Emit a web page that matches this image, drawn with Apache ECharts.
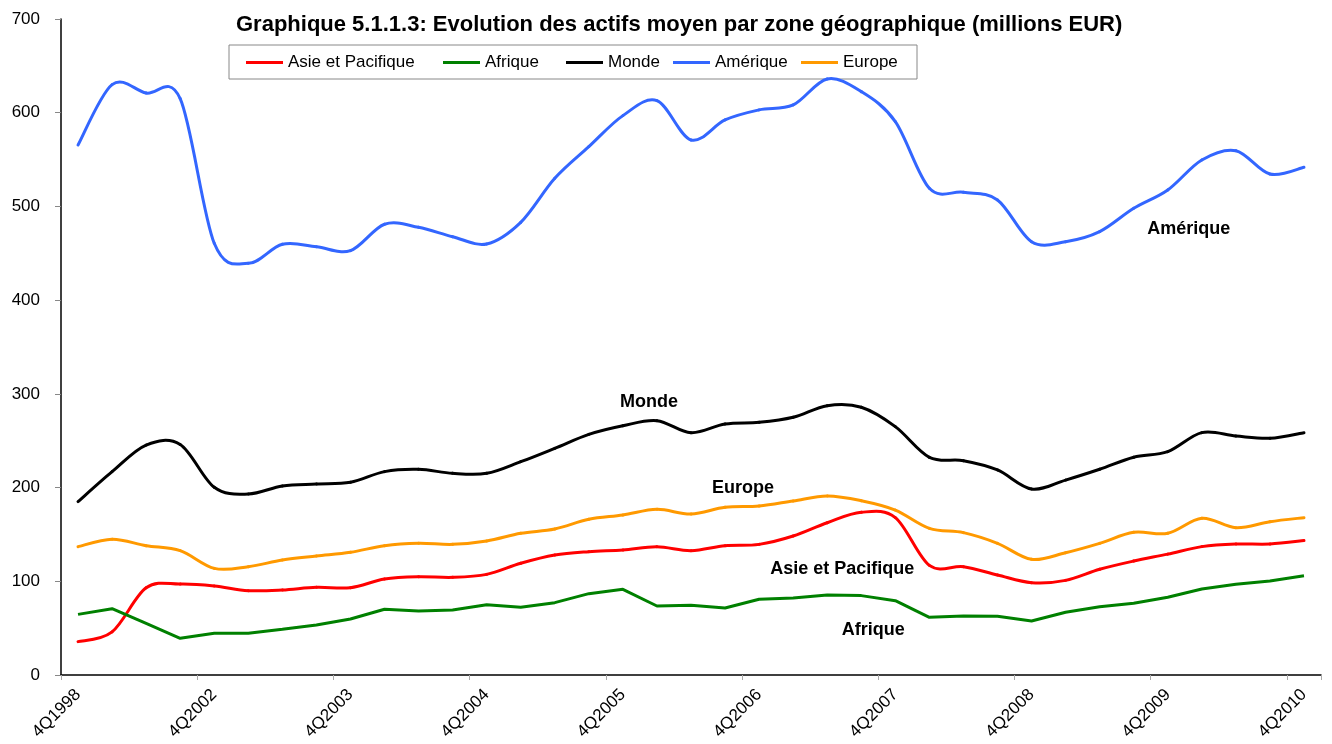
<!DOCTYPE html>
<html>
<head>
<meta charset="utf-8">
<script src="https://cdn.jsdelivr.net/npm/echarts@6/dist/echarts.min.js"></script>
<style>
html,body{margin:0;padding:0;background:#fff;}
#chart{width:1332px;height:744px;}
</style>
</head>
<body>
<div id="chart"></div>
<script>
const categories = ['4Q1998','4Q1999','4Q2000','4Q2001','4Q2002',
  '1Q2003','2Q2003','3Q2003','4Q2003',
  '1Q2004','2Q2004','3Q2004','4Q2004',
  '1Q2005','2Q2005','3Q2005','4Q2005',
  '1Q2006','2Q2006','3Q2006','4Q2006',
  '1Q2007','2Q2007','3Q2007','4Q2007',
  '1Q2008','2Q2008','3Q2008','4Q2008',
  '1Q2009','2Q2009','3Q2009','4Q2009',
  '1Q2010','2Q2010','3Q2010','4Q2010'];

const asiePacifique = [35.6, 46, 93, 97, 95, 90, 90.7, 93.6, 93.2, 102.4, 104.9, 104.2, 107.4, 119.2, 128, 131.6, 133.4, 136.9, 132.7, 138, 139.4, 148.3, 162.5, 173.6, 168, 117, 115.6, 106.7, 98.5, 101, 112.8, 121.6, 129, 137, 139.8, 139.8, 143.4];
const afrique = [64.7, 70.8, 55, 39.1, 44.5, 44.5, 48.7, 53.4, 59.8, 70.1, 68.3, 69.4, 75, 72.2, 77.2, 86.8, 91.4, 73.6, 74.3, 71.5, 80.8, 82.2, 85.4, 84.7, 79.3, 61.5, 63, 62.6, 57.6, 66.9, 72.9, 76.5, 82.9, 91.8, 96.8, 100.3, 106];
const monde = [185, 217, 245.4, 246, 200.3, 193.1, 201.7, 203.8, 205.6, 217, 219.5, 215.2, 215.2, 227.6, 241.9, 256.8, 266, 271.4, 258.6, 267.8, 269.6, 275, 287.4, 285.7, 265, 232.3, 228.7, 218.8, 198.5, 208, 219.5, 232.3, 238.3, 258.6, 255, 252.6, 258.6];
const amerique = [565.6, 630, 621, 615, 460.7, 439.3, 459.6, 457, 452.8, 481, 477.7, 467.7, 460, 483, 530, 563.8, 596.9, 612.9, 570.9, 592.3, 603, 608.3, 636, 622.5, 590.5, 519.4, 515.1, 506.9, 462.4, 462.4, 473.1, 498, 517.6, 549.6, 559.5, 534.6, 541.8];
const europe = [136.9, 144.8, 138, 132.7, 113.8, 115.6, 122.7, 127, 130.9, 138, 140.5, 139.4, 143, 151.2, 155.8, 166.1, 170.7, 176.8, 171.8, 178.9, 180.3, 185.7, 191, 186, 176, 156.5, 151.9, 140.5, 123.4, 130.5, 140.5, 152.3, 151.2, 167.2, 157.2, 163.6, 167.9];

const seriesNames = ['Asie et Pacifique', 'Afrique', 'Monde', 'Amérique', 'Europe'];
const seriesColors = ['#FF0000', '#008000', '#000000', '#3366FF', '#FF9900'];
const seriesData = [asiePacifique, afrique, monde, amerique, europe];
const seriesSmooth = [true, false, true, true, true];

// in-chart annotations: [category index, value]
const annotationNames = ['Asie et Pacifique', 'Afrique', 'Monde', 'Amérique', 'Europe'];
const annotationPos = [[22, 113], [23, 48], [17, 291], [32, 476], [20, 199]];
const annotationOffset = [[15, 0], [12, 0], [-8, 0], [21, 0], [-16, 0]];

const yTicks = { min: 0, max: 700, interval: 100 };

const legendLefts = [246, 443, 566, 673, 801];

const chart = echarts.init(document.getElementById('chart'));
const FONT = 'Liberation Sans, Arial, sans-serif';

// Excel-like smoothed line (Catmull-Rom Bezier) drawn via the chart's own coordinate system
function smoothRenderer(values, color) {
  return function (params, api) {
    const i = params.dataIndex;
    const n = values.length;
    if (i >= n - 1) return null;
    const pt = (j) => {
      const k = Math.max(0, Math.min(n - 1, j));
      return api.coord([k, values[k]]);
    };
    const p0 = pt(i - 1), p1 = pt(i), p2 = pt(i + 1), p3 = pt(i + 2);
    return {
      type: 'bezierCurve',
      shape: {
        x1: p1[0], y1: p1[1], x2: p2[0], y2: p2[1],
        cpx1: p1[0] + (p2[0] - p0[0]) / 6,
        cpy1: p1[1] + (p2[1] - p0[1]) / 6,
        cpx2: p2[0] - (p3[0] - p1[0]) / 6,
        cpy2: p2[1] - (p3[1] - p1[1]) / 6
      },
      style: { stroke: color, lineWidth: 3, fill: null, lineCap: 'round' },
      silent: true
    };
  };
}

const series = seriesNames.map((name, i) => {
  if (seriesSmooth[i]) {
    return {
      name: name,
      type: 'custom',
      data: seriesData[i].map((v, k) => [k, v]),
      encode: { x: 0, y: 1 },
      renderItem: smoothRenderer(seriesData[i], seriesColors[i]),
      itemStyle: { color: seriesColors[i] },
      z: 2
    };
  }
  return {
    name: name,
    type: 'line',
    data: seriesData[i],
    smooth: false,
    showSymbol: false,
    symbol: 'none',
    lineStyle: { color: seriesColors[i], width: 3 },
    itemStyle: { color: seriesColors[i] },
    emphasis: { disabled: true },
    z: 2,
    markPoint: {
      symbol: 'circle',
      symbolSize: 0,
      silent: true,
      data: annotationNames.map((t, k) => ({
        coord: annotationPos[k],
        label: {
          show: true,
          formatter: t,
          position: 'inside',
          offset: annotationOffset[k],
          fontFamily: FONT,
          fontSize: 18,
          fontWeight: 'bold',
          color: '#000'
        }
      }))
    }
  };
});

const legends = seriesNames.map((name, i) => ({
  data: [name],
  left: legendLefts[i],
  top: 54,
  padding: 0,
  icon: 'rect',
  itemWidth: 37,
  itemHeight: 3,
  itemStyle: { color: seriesColors[i] },
  textStyle: { fontFamily: FONT, fontSize: 17, color: '#000' },
  selectedMode: false
}));

chart.setOption({
  animation: false,
  backgroundColor: '#fff',
  title: {
    text: 'Graphique 5.1.1.3: Evolution des actifs moyen par zone géographique (millions EUR)',
    left: 231,
    top: 9,
    textStyle: { fontFamily: FONT, fontSize: 22, fontWeight: 'bold', color: '#000' }
  },
  legend: legends,
  graphic: [{
    type: 'rect',
    shape: { x: 229, y: 45, width: 688, height: 34 },
    style: { fill: 'none', stroke: '#888', lineWidth: 1 },
    silent: true,
    z: -1
  }],
  grid: { left: 61, right: 11, top: 19, bottom: 69, containLabel: false },
  xAxis: {
    type: 'category',
    data: categories,
    boundaryGap: true,
    axisLine: { lineStyle: { color: '#000', width: 1.5 } },
    axisTick: { show: true, interval: 3, length: 5, lineStyle: { color: '#aaa' } },
    axisLabel: {
      interval: 3,
      rotate: 45,
      margin: 17,
      fontFamily: FONT,
      fontSize: 17,
      color: '#000'
    },
    splitLine: { show: false }
  },
  yAxis: {
    type: 'value',
    min: yTicks.min,
    max: yTicks.max,
    interval: yTicks.interval,
    axisLine: { show: true, lineStyle: { color: '#000', width: 1.5 } },
    axisTick: { show: true, length: 6, lineStyle: { color: '#888' } },
    axisLabel: { fontFamily: FONT, fontSize: 17, color: '#000', margin: 21 },
    splitLine: { show: false }
  },
  series: series
});
</script>
</body>
</html>
